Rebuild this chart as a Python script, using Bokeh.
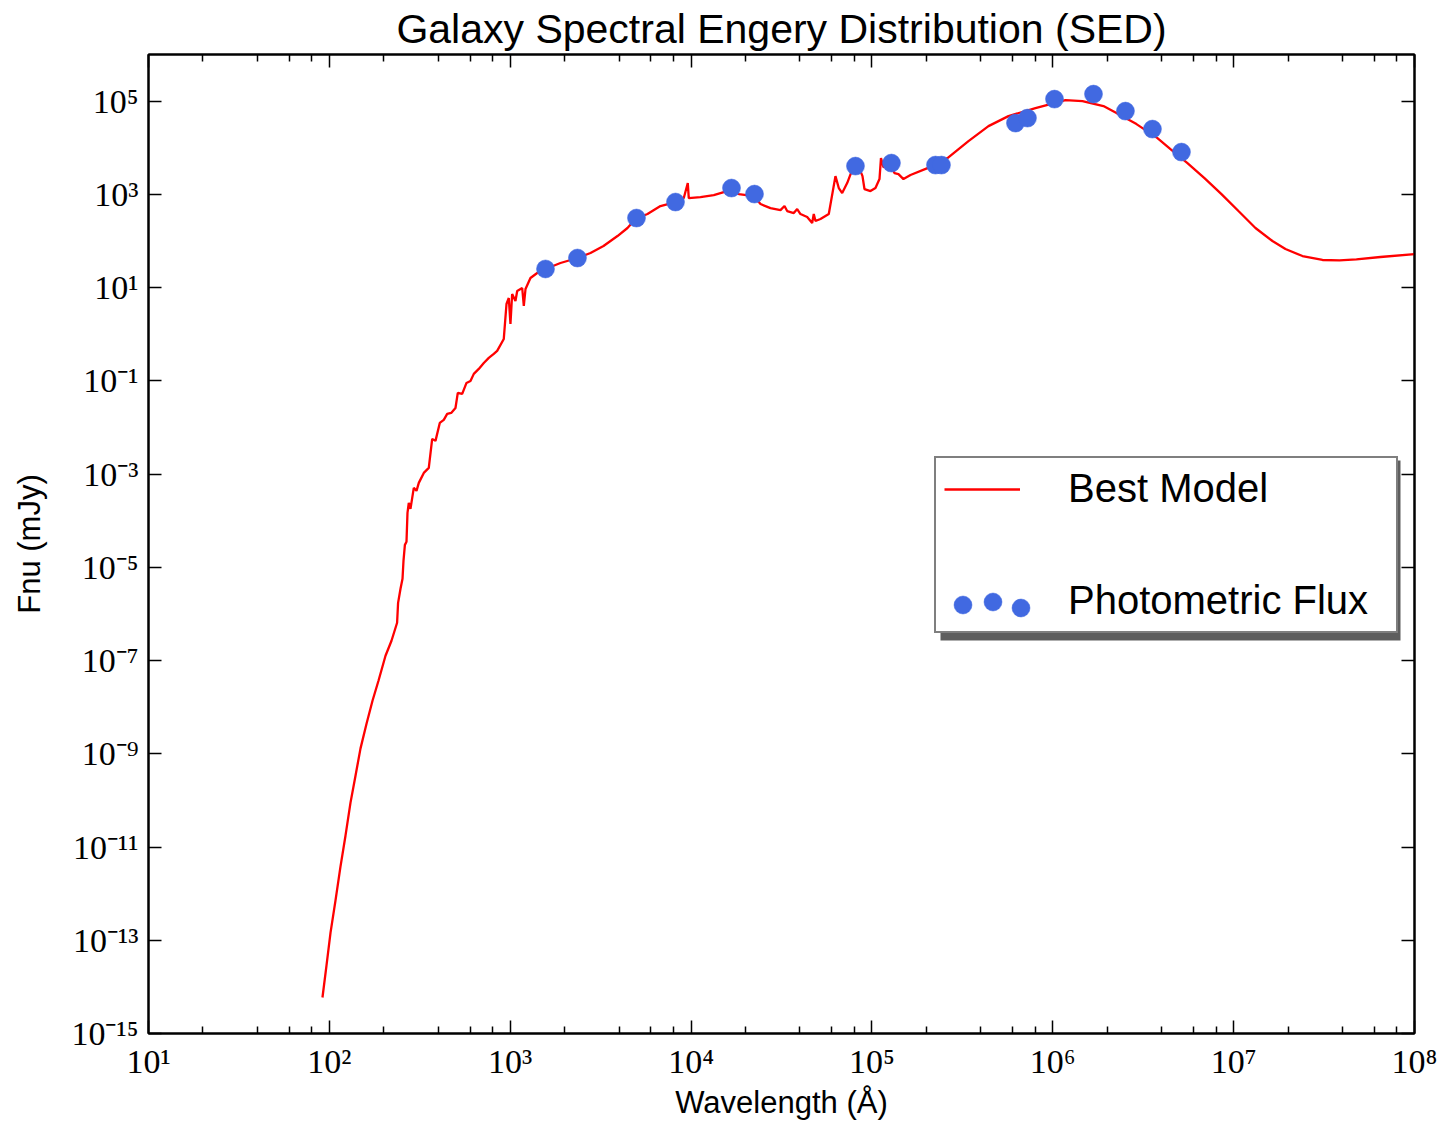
from bokeh.plotting import figure
from bokeh.models import (FixedTicker, LogAxis, Legend, LegendItem, BoxAnnotation, Title)
from bokeh.embed import file_html
from bokeh.resources import INLINE

# ---- data ----
model_wavelength = [
    91.6, 96.4, 101.5, 108.1, 115.2, 122.8, 130.9, 139.5, 148.6, 160.5,
    173.2, 186.9, 204.4, 220.6, 236.9, 239.9, 247.4, 253.8, 257.0, 261.6,
    267.0, 270.4, 274.9, 280.9, 293.0, 303.3, 312.3, 332.8, 354.6, 370.3,
    386.2, 407.9, 429.2, 448.2, 471.6, 498.2, 513.0, 542.6, 573.1, 603.0,
    629.0, 670.2, 714.3, 761.2, 811.3, 847.0, 921.4, 953.7, 981.9, 1003,
    1025, 1069, 1093, 1165, 1189, 1215, 1294, 1410, 1567, 1896,
    2354, 2779, 3279, 3918, 4450, 4927, 5741, 6772, 8202, 9114,
    9590, 9712, 11270, 13350, 16520, 18360, 22220, 24200, 27480, 31220,
    32850, 33990, 36980, 38610, 40260, 43850, 46730, 47690, 48730, 51940,
    57730, 62860, 65570, 68470, 72970, 78060, 84250, 88670, 90950, 98150,
    104600, 110100, 112200, 115800, 126600, 133200, 140200, 149400, 163400, 202900,
    230400, 261700, 341800, 441000, 568600, 802000, 1175000, 1459000, 1906000, 2250000,
    2902000, 3791000, 4474000, 5554000, 6896000, 8563000, 10630000, 13200000, 16390000, 19340000,
    24020000, 30990000, 38470000, 47750000, 64830000, 100000000,
]
model_flux = [
    5.92e-15, 2.87e-14, 1.46e-13, 7.10e-13, 3.80e-12, 1.75e-11, 8.95e-11, 3.39e-10, 1.29e-9, 4.42e-9,
    1.37e-8, 3.69e-8, 1.27e-7, 2.66e-7, 6.46e-7, 1.73e-6, 3.46e-6, 5.68e-6, 1.38e-5, 3.03e-5,
    3.52e-5, 1.47e-4, 2.42e-4, 1.79e-4, 5.06e-4, 4.37e-4, 6.47e-4, 1.06e-3, 1.36e-3, 5.69e-3,
    5.15e-3, 1.25e-2, 1.45e-2, 1.95e-2, 2.05e-2, 2.62e-2, 5.51e-2, 5.24e-2, 9.02e-2, 9.95e-2,
    0.141, 0.180, 0.242, 0.310, 0.378, 0.438, 0.791, 4.45, 5.98, 1.66,
    7.29, 5.16, 8.45, 9.80, 4.03, 9.33, 16.1, 20.6, 25.1, 33.7,
    43.1, 55.2, 78.0, 127.7, 189.7, 295.8, 378.4, 561.4, 684, 833,
    1746, 833, 875, 966, 1236, 1014, 920, 620, 508, 460,
    561, 438.5, 397, 484, 378.4, 326, 242.7, 378.4, 267.9, 295.8,
    378.4, 2466, 1365, 1067, 1746, 3486, 4042, 2466, 1300, 1177,
    1365, 2128, 5998, 3846, 4246, 2864, 2723, 2128, 2594, 3664,
    4467, 5998, 13900, 29110, 47680, 70790, 105100, 100000, 78160, 55330,
    32140, 16110, 9354, 4688, 2234, 1014, 438.5, 189.7, 99.8, 67.1,
    47.5, 39.1, 38.5, 40.4, 45.3, 52.5,
]
phot_wavelength = [1567, 2354, 4991, 8202, 16730, 22420, 81100, 128200, 224600, 242400,
                   621800, 724400, 1022000, 1679000, 2522000, 3557000, 5147000]
phot_flux = [25.1, 43.1, 310.5, 684, 1365, 1014, 4042, 4688, 4246, 4246,
             33760, 43210, 110400, 141300, 61040, 25120, 8070]

x_ticks = [1e1, 1e2, 1e3, 1e4, 1e5, 1e6, 1e7, 1e8]
x_tick_labels = ["10¹", "10²", "10³", "10⁴", "10⁵", "10⁶", "10⁷", "10⁸"]
y_ticks = [1e-15, 1e-13, 1e-11, 1e-9, 1e-7, 1e-5, 1e-3, 1e-1, 1e1, 1e3, 1e5]
y_tick_labels = ["10⁻¹⁵", "10⁻¹³", "10⁻¹¹", "10⁻⁹", "10⁻⁷", "10⁻⁵", "10⁻³", "10⁻¹",
                 "10¹", "10³", "10⁵"]
x_minor = [k * d for d in [1e1, 1e2, 1e3, 1e4, 1e5, 1e6, 1e7] for k in (2, 4, 6, 8)]

SANS = "Liberation Sans"
SERIF = "Liberation Serif"

p = figure(width=1442, height=1124, x_axis_type="log", y_axis_type="log",
           x_range=(1e1, 1e8), y_range=(1e-15, 1e6),
           output_backend="svg", toolbar_location=None,
           min_border_left=148, min_border_right=28, min_border_top=53, min_border_bottom=91)
p.title = Title(text="Galaxy Spectral Engery Distribution (SED)", align="center",
                text_font=SANS, text_font_size="41px", text_font_style="normal",
                text_color="black", standoff=6)

p.xgrid.visible = False
p.ygrid.visible = False
p.outline_line_color = "black"
p.outline_line_width = 2
p.background_fill_color = "white"
p.border_fill_color = "white"

xt = FixedTicker(ticks=x_ticks, minor_ticks=x_minor)
yt = FixedTicker(ticks=y_ticks, minor_ticks=[])

def style(ax):
    ax.axis_line_color = "black"
    ax.axis_line_width = 2
    ax.major_tick_in = 13
    ax.major_tick_out = 0
    ax.minor_tick_in = 7
    ax.minor_tick_out = 0
    ax.major_tick_line_width = 1.5
    ax.minor_tick_line_width = 1.5
    ax.major_tick_line_color = "black"
    ax.minor_tick_line_color = "black"
    ax.major_label_text_font = SERIF
    ax.major_label_text_font_size = "34px"
    ax.major_label_text_color = "black"
    ax.axis_label_text_font = SANS
    ax.axis_label_text_font_size = "31px"
    ax.axis_label_text_font_style = "normal"
    ax.axis_label_text_color = "black"

xa = p.xaxis[0]
xa.ticker = xt
style(xa)
xa.major_label_overrides = dict(zip(x_ticks, x_tick_labels))
xa.major_label_standoff = 9
xa.axis_label = "Wavelength (Å)"
xa.axis_label_standoff = 2

ya = p.yaxis[0]
ya.ticker = yt
style(ya)
ya.major_label_overrides = dict(zip(y_ticks, y_tick_labels))
ya.major_label_standoff = 10
ya.axis_label = "Fnu (mJy)"
ya.axis_label_standoff = 21

top = LogAxis(ticker=xt, major_label_overrides={t: "" for t in x_ticks}, major_label_standoff=0)
style(top)
top.major_label_text_font_size = "1px"
p.add_layout(top, "above")
right = LogAxis(ticker=yt, major_label_overrides={t: "" for t in y_ticks}, major_label_standoff=0)
style(right)
right.major_label_text_font_size = "1px"
p.add_layout(right, "right")

line_r = p.line(model_wavelength, model_flux, line_color="red", line_width=2.3)
pts_r = p.scatter(phot_wavelength, phot_flux, size=18, marker="circle",
                  fill_color="royalblue", line_color="royalblue", line_width=0.5)
# empty renderer: the legend row for the points shows three sample dots drawn below
blank_r = p.scatter([], [], size=1, fill_alpha=0, line_alpha=0)

shadow = BoxAnnotation(left=792, right=1252, top=573, bottom=393,
                       left_units="screen", right_units="screen",
                       top_units="screen", bottom_units="screen",
                       fill_color="#4d4d4d", fill_alpha=0.9, line_color=None)
p.add_layout(shadow)

legend = Legend(items=[LegendItem(label="Best Model", renderers=[line_r]),
                       LegendItem(label="Photometric Flux", renderers=[blank_r])],
                location=(786, 400), margin=0, padding=8, spacing=67,
                glyph_width=76, glyph_height=40, label_height=40, label_width=320,
                label_standoff=48,
                label_text_font=SANS, label_text_font_size="40px", label_text_color="black",
                border_line_color="black", border_line_width=2,
                background_fill_color="white", background_fill_alpha=1.0)
p.add_layout(legend, "center")

# three sample markers (scatterpoints) for the "Photometric Flux" legend row
for loc in [(792, 406), (822, 409), (850, 403)]:
    d = Legend(items=[LegendItem(label="", renderers=[pts_r])],
               location=loc, margin=0, padding=0, spacing=0,
               glyph_width=45, glyph_height=45, label_height=0, label_width=0, label_standoff=0,
               label_text_font_size="1px",
               border_line_color=None, background_fill_alpha=0)
    p.add_layout(d, "center")

open("out.html", "w").write(file_html(p, INLINE))
